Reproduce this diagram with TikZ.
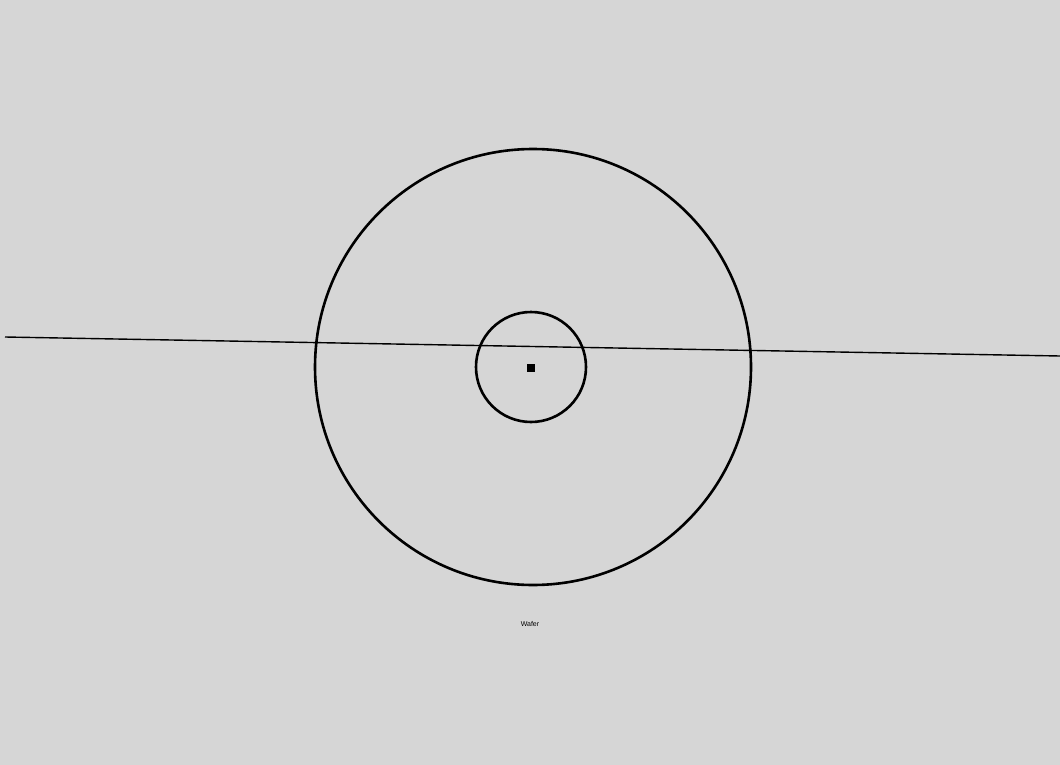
\documentclass[tikz,border=0pt]{standalone}
\usepackage{fontspec}
\setmainfont{Liberation Sans}
\definecolor{bg}{RGB}{214,214,214}
\begin{document}
\begin{tikzpicture}[x=1pt,y=-1pt,
  ring/.style={draw=black,line width=2.6pt},
  axisline/.style={draw=black,line width=1.4pt}]
\fill[bg] (0,0) rectangle (1060,765);
\useasboundingbox (0,0) rectangle (1060,765);
\node[ring,circle,minimum size=436pt,inner sep=0pt] (outer) at (533,367) {};
\node[ring,circle,minimum size=110pt,inner sep=0pt] (inner) at (531,367) {};
\node[fill=black,minimum size=8pt,inner sep=0pt] (dot) at (531,368) {};
\coordinate (L) at (5,337);
\coordinate (R) at (1060,356);
\draw[axisline] (L) -- (R);
\node[font=\fontsize{7pt}{8pt}\selectfont] (lbl) at (530,624) {Wafer};
\end{tikzpicture}
\end{document}
